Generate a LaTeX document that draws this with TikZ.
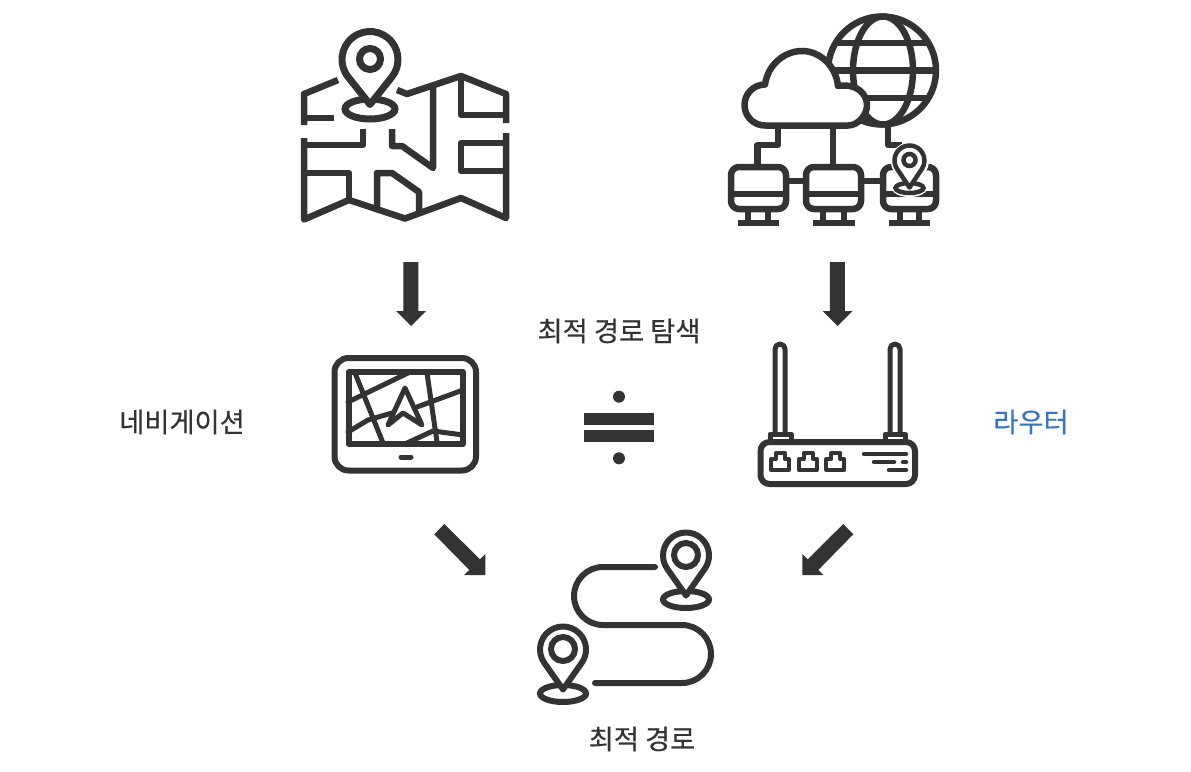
\documentclass[tikz,border=0pt]{standalone}
\usepackage{fontspec}
\setmainfont[FakeBold=0.35]{Noto Sans CJK KR}
\usetikzlibrary{calc}
\definecolor{ink}{HTML}{333333}
\definecolor{bluetext}{HTML}{3A73C1}
\tikzset{
  icon/.style={draw=ink,line width=6.5pt,line join=round,line cap=butt},
  thin/.style={draw=ink,line width=5pt,line join=round,line cap=round},
  solidarrow/.style={fill=ink,draw=none},
  caption/.style={text=ink,font=\fontsize{27.3}{30}\selectfont,inner sep=0pt},
}
% x, y, R, tip distance, inner r, line width, ellipse rx, ry, ellipse dy
\newcommand{\pinmark}[9]{%
  \begin{scope}[shift={(#1,#2)}]
    \pgfmathsetmacro{\pina}{acos(#3/#4)}
    \pgfmathsetmacro{\pinS}{90+\pina}
    \pgfmathsetmacro{\pinE}{450-\pina}
    \draw[draw=ink,fill=white,line width=#6pt] (0,#9) ellipse[x radius=#7,y radius=#8];
    \draw[draw=ink,fill=white,line width=#6pt,line join=round] (0,#4) -- (\pinS:#3) arc[start angle=\pinS,end angle=\pinE,radius=#3] -- cycle;
    \draw[draw=ink,line width=#6pt] (0,-0.5) circle[radius=#5];
  \end{scope}}
\begin{document}
\begin{tikzpicture}[x=1pt,y=-1pt]
\useasboundingbox (0,0) rectangle (1191,771);

% ---------- map ----------
\draw[icon] (338,80) -- (304,94) -- (304,125);
\draw[icon] (304,138) -- (304,219.5) -- (349,200) -- (405,218.5) -- (461,198) -- (506,218) -- (506,133);
\draw[icon] (506,123) -- (506,94) -- (461,76) -- (407,94) -- (397,90);
\draw[icon] (304,118) -- (334,118);
\draw[icon] (304,145) -- (363,145) -- (363,129);
\draw[icon] (304,173) -- (349,173) -- (349,200);
\draw[icon] (392,129) -- (392,146) -- (402,146) -- (433,168) -- (433,85);
\draw[icon] (461,76) -- (461,115) -- (506,115);
\draw[icon] (506,143) -- (461,143) -- (461,171) -- (506,171);
\draw[icon] (377,207) -- (377,173) -- (392,173) -- (419,192) -- (419,212);
\pinmark{370}{59.5}{28}{45}{10.5}{7}{25}{10}{49.5}

% ---------- globe, cloud, monitors ----------
\draw[icon] (882,70.5) circle[radius=54];
\draw[icon] (883,70.5) ellipse[x radius=30,y radius=54];
\draw[icon] (834,43) -- (930,43);
\draw[icon] (828,70.5) -- (936,70.5);
\draw[icon] (834,98) -- (930,98);
\draw[icon,fill=white] (765,125.5) arc[start angle=90,end angle=270,radius=20.5]
  .. controls (768,64) and (785,51) .. (802,51)
  .. controls (820,51) and (836,66) .. (838,86)
  .. controls (858,83) and (867,95) .. (867,105)
  .. controls (867,115) and (858,125.5) .. (848,125.5) -- cycle;
\draw[icon] (778,126) -- (778,145) -- (757.5,145) -- (757.5,166);
\draw[icon] (833,126) -- (833,166);
\draw[icon] (888,123) -- (888,145) -- (902,145);
\foreach \xa/\xb/\la/\lb/\fa/\fb in {731/786/748/768/738/779, 806/861/823/844/813/855, 883/936/900/919/889/930}{
  \draw[icon,rounded corners=8pt] (\xa,167) rectangle (\xb,209);
  \draw[icon] (\xa,194) -- (\xb,194);
  \draw[icon] (\la,212) -- (\la,222);
  \draw[icon] (\lb,212) -- (\lb,222);
  \draw[icon] (\fa,223) -- (\fb,223);
}
\draw[icon] (786,181) -- (806,181);
\draw[icon] (861,181) -- (883,181);
% white halo behind the small pin
\draw[draw=white,fill=white,line width=5pt] (909.5,188) ellipse[x radius=15,y radius=6.5];
\draw[draw=white,fill=white,line width=8pt,line join=round] (909.5,187.5) -- (897.5,169.5) arc[start angle=146,end angle=394,radius=15] -- cycle;
\pinmark{909.5}{160.5}{15}{27}{6}{4.5}{14}{5}{27.5}

% ---------- navigation device ----------
\draw[icon,line width=6pt,rounded corners=14pt] (334.5,358) rectangle (476,470.5);
\draw[icon,line width=6pt] (348.5,372) rectangle (463,444);
\draw[thin] (355,373) -- (383,443);
\draw[thin] (348,402) -- (410,372);
\draw[thin] (348,432) -- (368,420) -- (392,413);
\draw[thin] (417,407) -- (463,390);
\draw[thin] (427,373) -- (437,442);
\draw[thin] (407,443) -- (433,431) -- (463,435);
\draw[thin,fill=white] (405,388) -- (422,425) -- (403,413) -- (388,425) -- cycle;
\draw[thin] (401,457) -- (411,457);

% ---------- router ----------
\draw[thin] (775,432) -- (775,349) arc[start angle=180,end angle=360,radius=5] -- (785,432);
\draw[thin] (890,432) -- (890,349) arc[start angle=180,end angle=360,radius=5] -- (900,432);
\draw[thin] (770,440) -- (770,434) -- (791,434) -- (791,440);
\draw[thin] (885,440) -- (885,434) -- (905,434) -- (905,440);
\draw[icon,line width=6pt,rounded corners=9pt,fill=white] (760.5,442) rectangle (915,484);
\foreach \dx in {0,27.7,55.4}{
  \draw[thin,line width=4pt,xshift=\dx pt] (771,470) -- (771,459) -- (776,459) -- (776,453) -- (785,453) -- (785,459) -- (789,459) -- (789,470) -- cycle;
}
\draw[thin,line width=4.5pt] (864,454) -- (906,454);
\draw[thin,line width=4.5pt] (874,462) -- (894,462);
\draw[thin,line width=4.5pt] (903,462) -- (906,462);
\draw[thin,line width=4.5pt] (889,470) -- (906,470);

% ---------- route ----------
\draw[icon,line width=6pt,line cap=round] (655,567) -- (603,567) arc[start angle=270,end angle=90,radius=29] -- (682,625) arc[start angle=-90,end angle=90,radius=29] -- (595,683);
\pinmark{686}{555.5}{23}{40}{12}{6}{23}{8.5}{44}
\pinmark{563}{649.5}{23}{40}{12}{6}{23}{8.5}{44}

% ---------- arrows ----------
\fill[solidarrow] (403.3,262) -- (418.3,262) -- (418.3,311) -- (426,311) -- (411,326) -- (396,311) -- (403.3,311) -- cycle;
\fill[solidarrow] (829.8,262) -- (844.8,262) -- (844.8,311) -- (852.5,311) -- (837.5,326) -- (822.5,311) -- (829.8,311) -- cycle;
\fill[solidarrow] (434.3,534.3) -- (444.3,524) -- (480,559.3) -- (485.3,554) -- (485.3,575) -- (464,575) -- (469.3,570) -- cycle;
\fill[solidarrow] (853.3,534.3) -- (843.3,524) -- (807.7,559.3) -- (802.3,554) -- (802.3,575) -- (823.3,575) -- (818.3,570) -- cycle;

% ---------- divide sign ----------
\fill[ink] (619,396.7) circle[radius=6];
\fill[ink] (619,458.3) circle[radius=6];
\fill[ink] (583.7,413) rectangle (654.3,424.5);
\fill[ink] (583.7,430) rectangle (654.3,441.7);

% ---------- labels ----------
\node[caption] (search) at (619,331) {최적 경로 탐색};
\node[caption] (nav) at (182,422) {네비게이션};
\node[caption,text=bluetext] (router) at (1031,422) {라우터};
\node[caption] (best) at (642,739) {최적 경로};
\end{tikzpicture}
\end{document}
